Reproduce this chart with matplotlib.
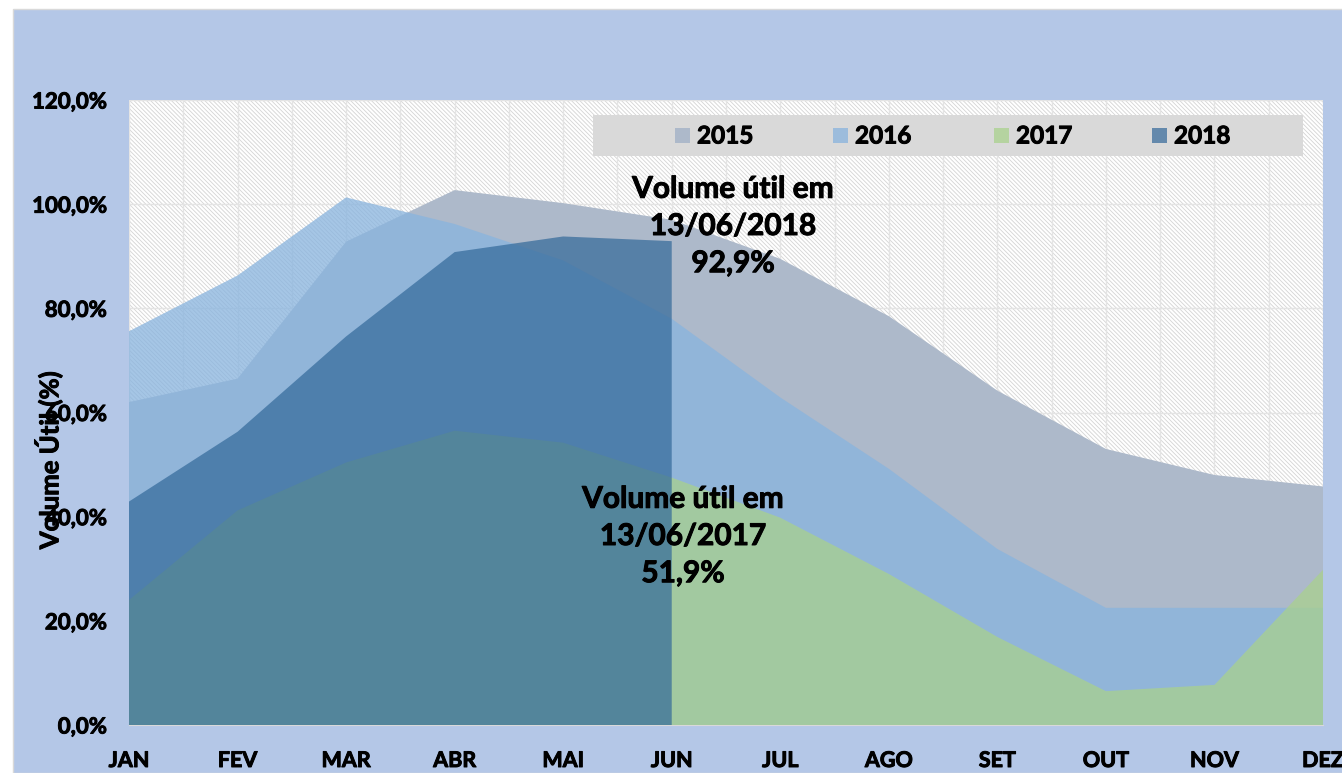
import matplotlib
matplotlib.use("Agg")
import matplotlib.pyplot as plt
import matplotlib.patheffects as pe
from matplotlib.patches import Rectangle
from matplotlib.ticker import FuncFormatter, MultipleLocator
import numpy as np

plt.rcParams['font.family'] = ['Lato', 'DejaVu Sans']
plt.rcParams['font.weight'] = 'bold'
plt.rcParams['hatch.linewidth'] = 0.6

months = ["JAN", "FEV", "MAR", "ABR", "MAI", "JUN", "JUL", "AGO", "SET", "OUT", "NOV", "DEZ"]
v2015 = [62.0, 66.5, 92.8, 102.7, 100.2, 97.0, 89.5, 78.5, 64.2, 53.0, 48.0, 45.8]
v2016 = [75.6, 86.3, 101.3, 96.2, 89.2, 78.0, 62.9, 49.2, 33.8, 22.5, 22.5, 22.5]
v2017 = [24.0, 41.2, 50.4, 56.5, 54.2, 47.5, 39.8, 29.0, 16.9, 6.5, 7.7, 29.8]
v2018 = [42.9, 56.3, 74.6, 90.8, 93.8, 92.9]
years = ["2015", "2016", "2017", "2018"]
y_ticks = [0, 20, 40, 60, 80, 100, 120]

colors = {"2015": ("#ADB9CA", 1.0), "2016": ("#89B4DE", 0.76),
          "2017": ("#A9D18E", 0.75), "2018": ("#326899", 0.70)}
series = {"2015": v2015, "2016": v2016, "2017": v2017, "2018": v2018}

W, H = 1342, 773
fig = plt.figure(figsize=(W / 100, H / 100), dpi=100, facecolor="white")
thick = [pe.withStroke(linewidth=0.7, foreground="black")]

def fx(x):
    return x / W

def fy(y):
    return 1 - y / H

# blue chart background
fig.patches.append(Rectangle((fx(13), 0), 1, fy(9), transform=fig.transFigure,
                             facecolor="#B4C7E7", edgecolor="#D9D9D9", lw=1, zorder=-5))

ax = fig.add_axes([fx(129), fy(725), fx(1323) - fx(129), fy(100) - fy(725)])
ax.set_zorder(1)
ax.set_facecolor("white")
ax.add_patch(Rectangle((0, 0), 1, 1, transform=ax.transAxes, facecolor="white",
                       hatch="\\" * 8, edgecolor="#D4D4D4", lw=0, zorder=0))

x = np.arange(len(months))
for i, yr in enumerate(years):
    vals = series[yr]
    c, a = colors[yr]
    xx = x[:len(vals)]
    ax.fill_between(xx, 0, vals, facecolor=c, alpha=a, lw=0, zorder=2 + i)

ax.set_xlim(0, 11)
ax.set_ylim(0, 120)
ax.set_yticks(y_ticks)
ax.set_xticks(x)
ax.set_xticklabels(months)
ax.xaxis.set_minor_locator(MultipleLocator(0.5))
ax.yaxis.set_major_formatter(FuncFormatter(lambda v, p: f"{v:.1f}%".replace(".", ",")))
ax.grid(True, which="both", axis="x", color="#E4E4E4", lw=1, zorder=1)
ax.grid(True, which="major", axis="y", color="#E4E4E4", lw=1, zorder=1)
ax.set_axisbelow(True)
ax.tick_params(axis="both", which="both", length=0)
ax.tick_params(axis="y", pad=16, labelsize=16)
ax.tick_params(axis="x", pad=18, labelsize=15.5)
for s in ["top", "right", "left"]:
    ax.spines[s].set_visible(False)
ax.spines["bottom"].set_color("#D9D9D9")
fig.canvas.draw()
for lab in ax.get_xticklabels() + ax.get_yticklabels():
    lab.set_fontweight("bold")
    lab.set_path_effects(thick)

fig.text(fx(48), fy(460), "Volume Útil (%)", rotation=90, ha="center", va="center",
         fontsize=18.5, fontweight="bold", zorder=10, path_effects=thick)

# legend
fig.patches.append(Rectangle((fx(593), fy(156)), fx(1303) - fx(593), fy(115) - fy(156),
                             transform=fig.transFigure, facecolor="#D9D9D9",
                             edgecolor="none", zorder=5))
leg_x = [675, 833, 994, 1152]
for lx, yr in zip(leg_x, years):
    c, a = colors[yr]
    fig.patches.append(Rectangle((fx(lx), fy(143)), fx(15), fy(128) - fy(143),
                                 transform=fig.transFigure, facecolor=c, alpha=a,
                                 edgecolor="none", zorder=6))
    fig.text(fx(lx + 22), fy(136), yr, ha="left", va="center", fontsize=17.5,
             fontweight="bold", zorder=10, path_effects=thick)

fig.text(fx(733), fy(226), "Volume útil em\n13/06/2018\n92,9%", ha="center", va="center",
         fontsize=21.5, fontweight="bold", linespacing=1.4, zorder=10, path_effects=thick)
fig.text(fx(683), fy(536), "Volume útil em\n13/06/2017\n51,9%", ha="center", va="center",
         fontsize=21.5, fontweight="bold", linespacing=1.4, zorder=10, path_effects=thick)

fig.savefig("out.png", dpi=100, facecolor="white")
